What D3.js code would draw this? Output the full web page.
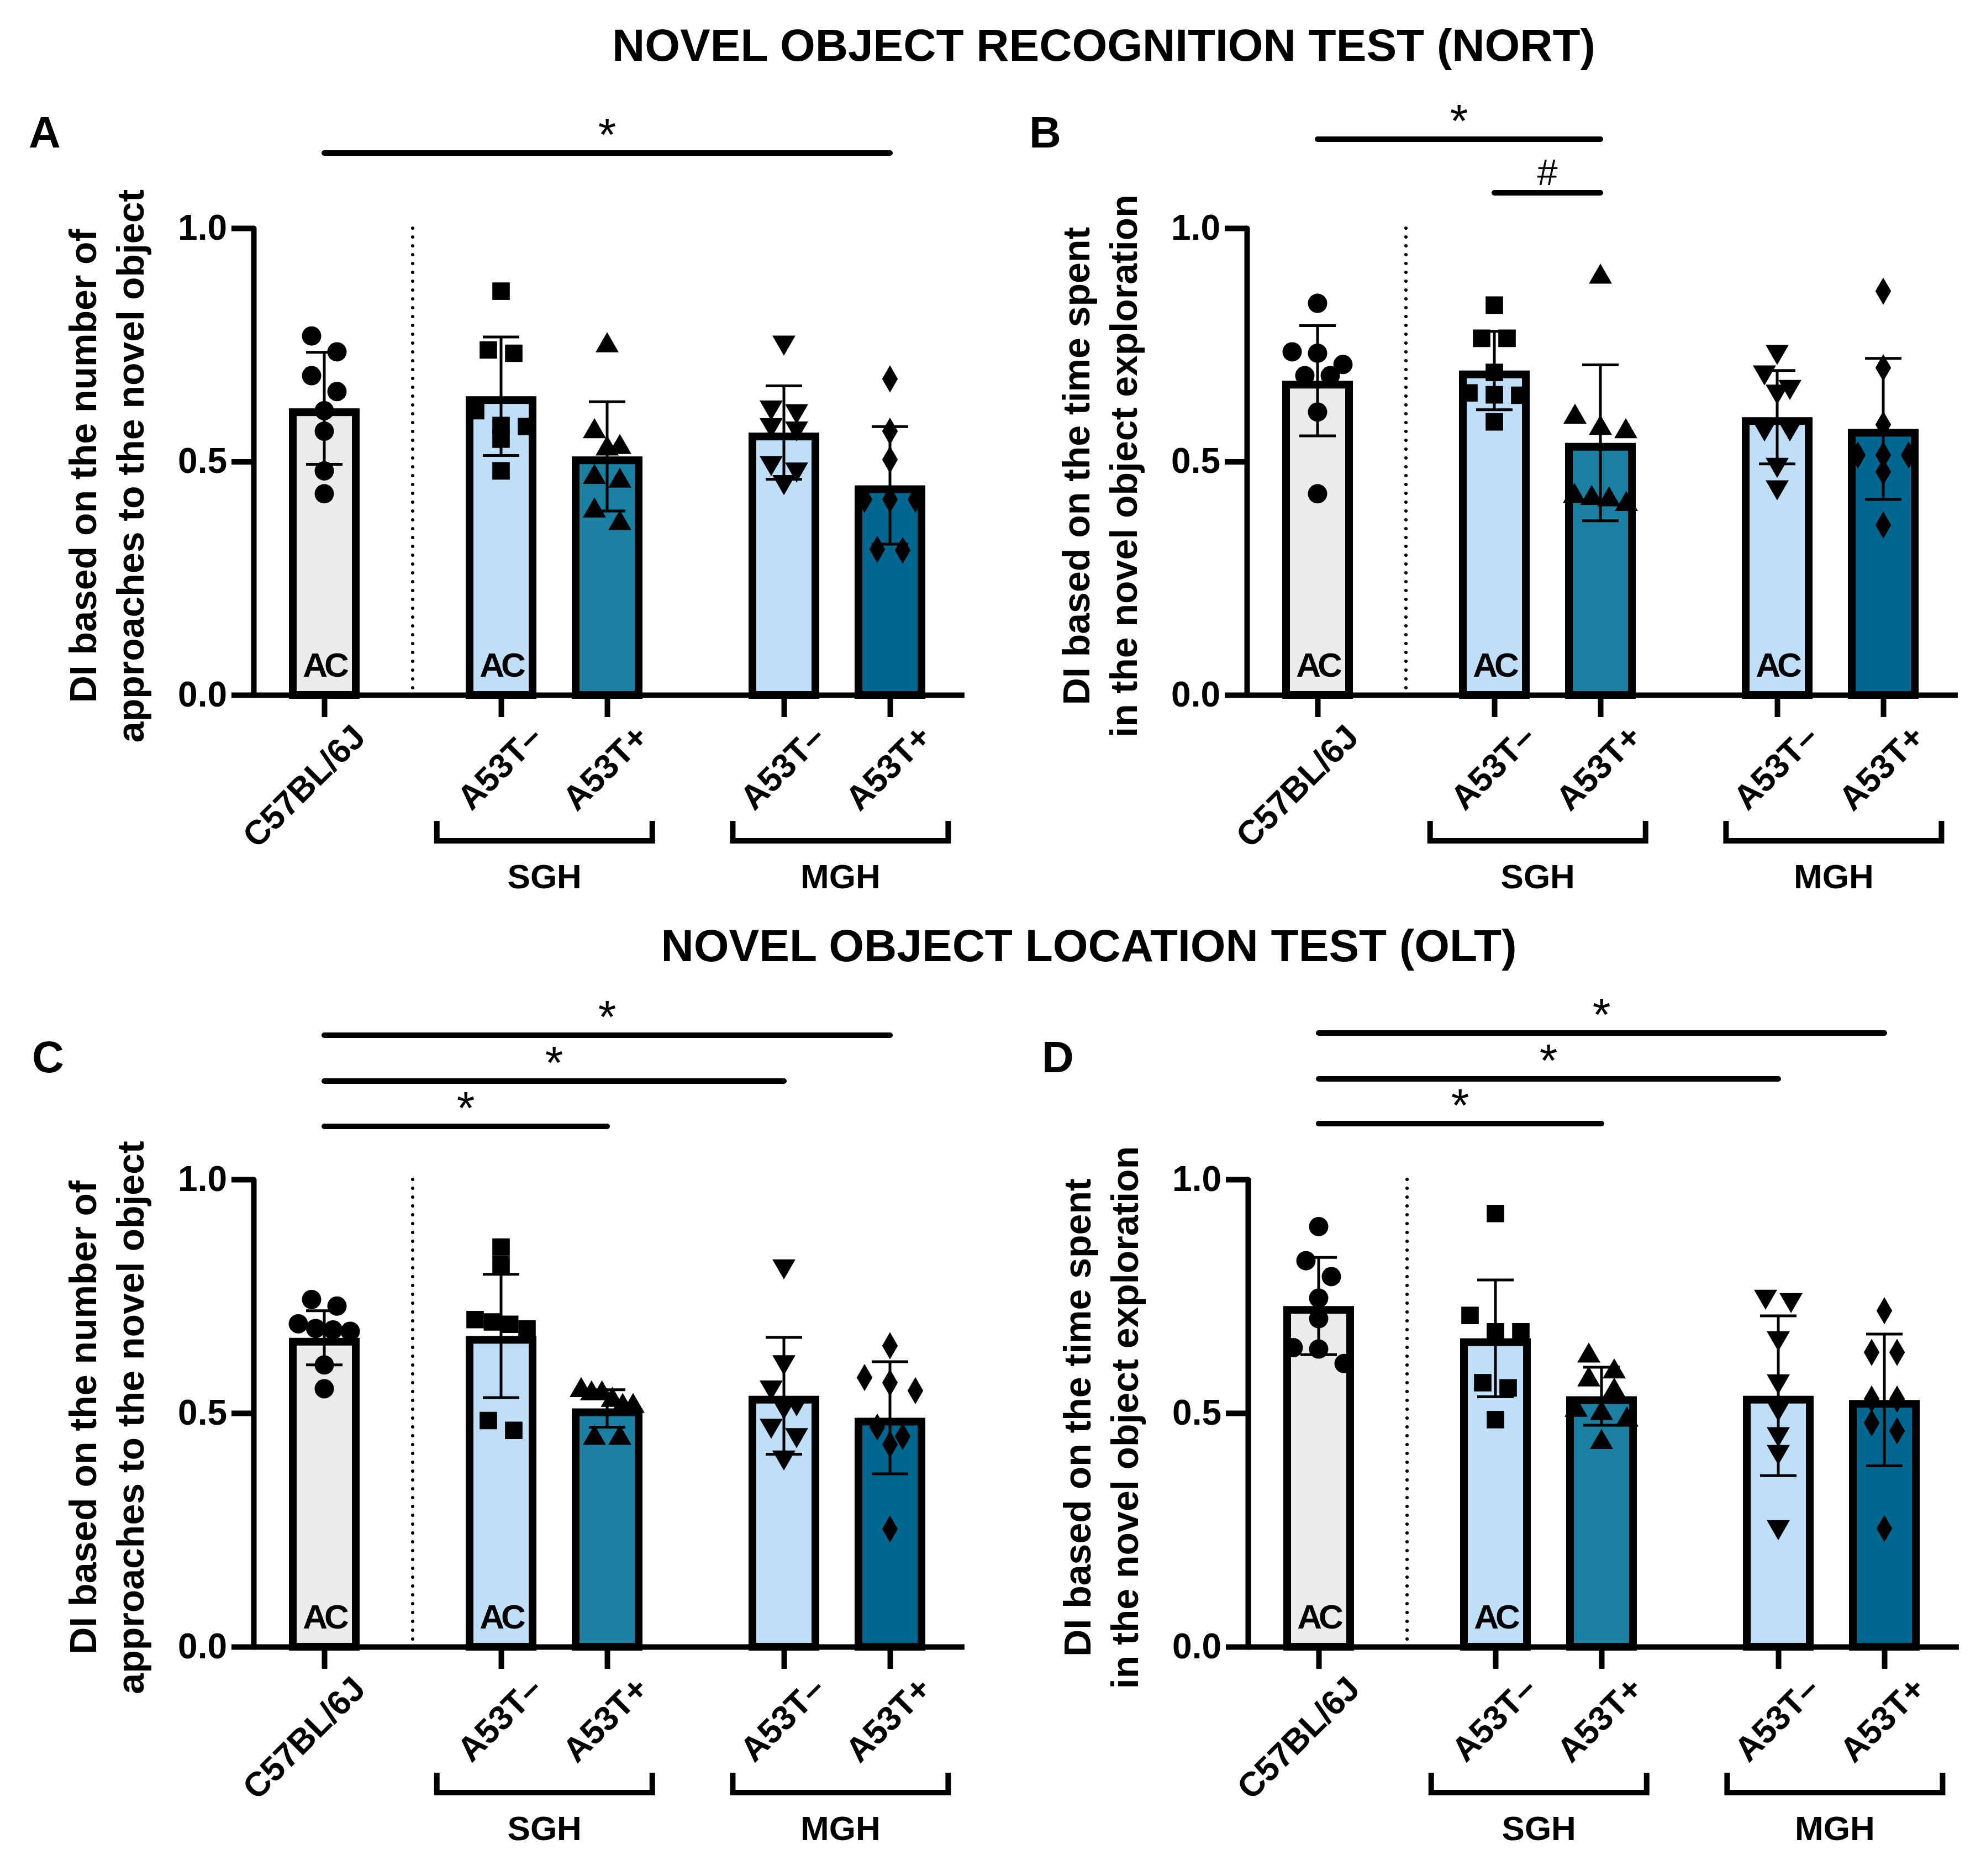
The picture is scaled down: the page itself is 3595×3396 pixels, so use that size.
<!DOCTYPE html>
<html>
<head>
<meta charset="utf-8">
<script src="https://cdn.jsdelivr.net/npm/d3@7"></script>
<style>
  body { margin: 0; background: #fff; }
  text { font-family: "Liberation Sans", Arial, Helvetica, sans-serif; }
</style>
</head>
<body>
<div id="chart"></div>
<script>
// ---- data ----
const categories = ["C57BL/6J", "A53T\u2013", "A53T+", "A53T\u2013", "A53T+"];
const groups = ["SGH", "MGH"];
const yTicks = [0, 0.5, 1.0];

// panel A: NORT, DI by number of approaches
const nortApproachMean = [0.614, 0.640, 0.511, 0.562, 0.449];
const nortApproachSd = [0.120, 0.127, 0.117, 0.100, 0.126];
const nortApproachPts = [
    [0.769, 0.735, 0.684, 0.650, 0.609, 0.565, 0.480, 0.431],
    [0.865, 0.739, 0.732, 0.609, 0.577, 0.575, 0.548, 0.480],
    [0.752, 0.568, 0.534, 0.531, 0.470, 0.462, 0.398, 0.371],
    [0.752, 0.613, 0.605, 0.575, 0.568, 0.494, 0.480, 0.453],
    [0.677, 0.565, 0.504, 0.419, 0.419, 0.419, 0.312, 0.310]
];

// panel B: NORT, DI by time spent
const nortTimeMean = [0.673, 0.695, 0.540, 0.595, 0.570];
const nortTimeSd = [0.118, 0.084, 0.167, 0.100, 0.151];
const nortTimePts = [
    [0.839, 0.735, 0.732, 0.708, 0.684, 0.684, 0.606, 0.431],
    [0.835, 0.764, 0.764, 0.691, 0.647, 0.643, 0.642, 0.585],
    [0.899, 0.599, 0.575, 0.568, 0.429, 0.425, 0.422, 0.412],
    [0.732, 0.688, 0.657, 0.647, 0.568, 0.568, 0.490, 0.442],
    [0.865, 0.701, 0.579, 0.514, 0.514, 0.514, 0.478, 0.364]
];

// panel C: OLT, DI by number of approaches
const oltApproachMean = [0.661, 0.665, 0.510, 0.537, 0.490];
const oltApproachSd = [0.058, 0.132, 0.040, 0.125, 0.120];
const oltApproachPts = [
    [0.743, 0.729, 0.691, 0.681, 0.678, 0.675, 0.603, 0.552],
    [0.855, 0.817, 0.700, 0.695, 0.690, 0.680, 0.484, 0.463],
    [0.552, 0.545, 0.545, 0.531, 0.518, 0.518, 0.450, 0.450],
    [0.811, 0.606, 0.552, 0.518, 0.511, 0.470, 0.450, 0.402],
    [0.644, 0.576, 0.565, 0.548, 0.470, 0.450, 0.433, 0.252]
];

// panel D: OLT, DI by time spent
const oltTimeMean = [0.729, 0.660, 0.536, 0.537, 0.528];
const oltTimeSd = [0.104, 0.125, 0.062, 0.171, 0.141];
const oltTimePts = [
    [0.899, 0.826, 0.792, 0.746, 0.702, 0.640, 0.637, 0.606],
    [0.927, 0.709, 0.674, 0.674, 0.671, 0.565, 0.554, 0.486],
    [0.626, 0.592, 0.575, 0.551, 0.510, 0.503, 0.489, 0.441],
    [0.746, 0.739, 0.657, 0.565, 0.507, 0.452, 0.414, 0.253],
    [0.719, 0.630, 0.630, 0.530, 0.530, 0.479, 0.462, 0.253]
];

// "AC" marks and significance comparisons (category indices)
const acA = [0, 1], acB = [0, 1, 3], acC = [0, 1], acD = [0, 1];
const sigA = [{ from: 0, to: 4, mark: "*" }];
const sigB = [{ from: 0, to: 2, mark: "*" }, { from: 1, to: 2, mark: "#" }];
const sigC = [{ from: 0, to: 4, mark: "*" }, { from: 0, to: 3, mark: "*" }, { from: 0, to: 2, mark: "*" }];
const sigD = [{ from: 0, to: 4, mark: "*" }, { from: 0, to: 3, mark: "*" }, { from: 0, to: 2, mark: "*" }];

// ---- styling / layout ----
const W = 3595, H = 3396;
const fills = ["#ebebeb", "#bfdff8", "#1a7fa1", "#006890"];
const barFill = [fills[0], fills[1], fills[2], fills[1], fills[3]];
const shapes = [d3.symbolCircle, d3.symbolSquare, d3.symbolTriangle, "down", d3.symbolDiamond];
const slots = [0, 5, 8, 13, 16];          // x slots of the five columns
const groupCenter = [6.23, 14.6];
const barStroke = 14;
const font = '"Liberation Sans", Arial, Helvetica, sans-serif';

const panels = [
    { letter: "A", x0: 0, y1: 413, y0: 1258, mean: nortApproachMean, sd: nortApproachSd, pts: nortApproachPts,
      ac: acA, sig: sigA, sigY: [-136], lx: 52, ly: 267,
      ylab: ["DI based on the number of", "approaches to the novel object"] },
    { letter: "B", x0: 1798, y1: 413, y0: 1258, mean: nortTimeMean, sd: nortTimeSd, pts: nortTimePts,
      ac: acB, sig: sigB, sigY: [-161, -64], lx: 1863, ly: 267,
      ylab: ["DI based on the time spent", "in the novel object exploration"] },
    { letter: "C", x0: 0, y1: 2135, y0: 2981, mean: oltApproachMean, sd: oltApproachSd, pts: oltApproachPts,
      ac: acC, sig: sigC, sigY: [-261, -178, -96], lx: 58, ly: 1941,
      ylab: ["DI based on the number of", "approaches to the novel object"] },
    { letter: "D", x0: 1800, y1: 2135, y0: 2981, mean: oltTimeMean, sd: oltTimeSd, pts: oltTimePts,
      ac: acD, sig: sigD, sigY: [-265, -182, -101], lx: 1886, ly: 1941,
      ylab: ["DI based on the time spent", "in the novel object exploration"] }
];

const svg = d3.select("#chart").append("svg")
    .attr("width", W).attr("height", H)
    .attr("viewBox", `0 0 ${W} ${H}`);
svg.append("rect").attr("width", W).attr("height", H).attr("fill", "#fff");

// titles
svg.append("text").attr("x", 1998).attr("y", 110)
    .attr("text-anchor", "middle").attr("font-size", 82).attr("font-weight", "bold")
    .text("NOVEL OBJECT RECOGNITION TEST (NORT)");
svg.append("text").attr("x", 1971).attr("y", 1740)
    .attr("text-anchor", "middle").attr("font-size", 82).attr("font-weight", "bold")
    .text("NOVEL OBJECT LOCATION TEST (OLT)");

// spread the points of one column in rows, like the scatter in the figure
function spread(values, thr) {
    const sorted = values.map((v, i) => ({ v, i })).sort((a, b) => b.v - a.v);
    const out = [];
    let row = [];
    const flush = () => {
        const k = row.length;
        const step = k > 1 ? Math.min(46, 94 / (k - 1)) : 0;
        row.forEach((p, j) => out.push({ v: p.v, dx: (j - (k - 1) / 2) * step }));
        row = [];
    };
    sorted.forEach(p => {
        if (row.length && row[0].v - p.v > thr) flush();
        row.push(p);
    });
    flush();
    return out;
}

panels.forEach(p => {
    const g = svg.append("g");
    const x = d3.scaleLinear().domain([-2, 18.1]).range([p.x0 + 459, p.x0 + 459 + 64 * 20.1]);
    const y = d3.scaleLinear().domain([0, 1]).range([p.y0, p.y1]);

    // panel letter
    g.append("text").attr("x", p.lx).attr("y", p.ly)
        .attr("font-size", 80).attr("font-weight", "bold").text(p.letter);

    // y axis label (two lines)
    const ymid = (p.y0 + p.y1) / 2 + 8;
    p.ylab.forEach((t, i) => {
        g.append("text")
            .attr("transform", `translate(${p.x0 + 174 + i * 86},${ymid}) rotate(-90)`)
            .attr("text-anchor", "middle").attr("font-size", 68).attr("font-weight", "bold")
            .text(t);
    });

    // bars (outline kept inside the bar, so the outer top edge sits on the mean)
    g.selectAll("rect.bar").data(p.mean).enter().append("rect")
        .attr("class", "bar")
        .attr("x", (d, i) => x(slots[i]) - 57)
        .attr("width", 114)
        .attr("y", d => y(d) + barStroke / 2)
        .attr("height", d => y(0) - y(d) - barStroke / 2)
        .attr("fill", (d, i) => barFill[i])
        .attr("stroke", "#000").attr("stroke-width", barStroke);

    // AC marks inside bars
    p.ac.forEach(i => {
        g.append("text").attr("x", x(slots[i])).attr("y", y(0) - 33)
            .attr("text-anchor", "middle").attr("font-size", 62).attr("font-weight", "bold")
            .attr("letter-spacing", -6).text("AC");
    });

    // dotted separator
    g.append("line").attr("x1", x(2.5)).attr("x2", x(2.5))
        .attr("y1", y(1)).attr("y2", y(0) - 10)
        .attr("stroke", "#000").attr("stroke-width", 6)
        .attr("stroke-linecap", "round").attr("stroke-dasharray", "0 16");

    // points
    p.pts.forEach((vals, i) => {
        const sym = shapes[i];
        const gen = d3.symbol().type(sym === "down" ? d3.symbolTriangle : sym)
            .size(sym === d3.symbolCircle ? 960 : sym === d3.symbolSquare ? 1000 : sym === d3.symbolDiamond ? 700 : 760);
        g.selectAll(null).data(spread(vals, 0.035)).enter().append("path")
            .attr("d", gen())
            .attr("transform", d => `translate(${x(slots[i]) + d.dx},${y(d.v) + (sym === "down" ? -3 : sym === d3.symbolTriangle ? 3 : 0)})` + (sym === "down" ? " rotate(180)" : ""))
            .attr("fill", "#000");
    });

    // error bars (mean +/- SD)
    p.mean.forEach((m, i) => {
        const cx = x(slots[i]);
        const lo = y(m - p.sd[i]), hi = y(m + p.sd[i]);
        g.append("line").attr("x1", cx).attr("x2", cx).attr("y1", lo).attr("y2", hi)
            .attr("stroke", "#000").attr("stroke-width", 5);
        [lo, hi].forEach(yy => g.append("line")
            .attr("x1", cx - 33).attr("x2", cx + 33).attr("y1", yy).attr("y2", yy)
            .attr("stroke", "#000").attr("stroke-width", 5));
    });

    // y axis
    const yAxis = g.append("g").attr("transform", `translate(${x(-2)},0)`)
        .call(d3.axisLeft(y).tickValues(yTicks).tickFormat(d3.format(".1f")).tickSize(40).tickSizeOuter(0).tickPadding(8));
    yAxis.select(".domain").attr("stroke-width", 10).attr("stroke-linecap", "round");
    yAxis.selectAll(".tick line").attr("stroke-width", 10);
    yAxis.selectAll(".tick text").attr("font-size", 64).attr("font-weight", "bold")
        .attr("font-family", font).attr("fill", "#000");

    // x axis
    const xAxis = g.append("g").attr("transform", `translate(0,${y(0)})`)
        .call(d3.axisBottom(x).tickValues(slots).tickFormat("").tickSize(40).tickSizeOuter(0));
    xAxis.select(".domain").attr("stroke-width", 10);
    xAxis.selectAll(".tick line").attr("stroke-width", 10);

    // rotated category labels
    categories.forEach((c, i) => {
        g.append("text")
            .attr("transform", `translate(${x(slots[i]) + 78},${y(0) + 80}) rotate(-45)`)
            .attr("text-anchor", "end").attr("font-size", 62).attr("font-weight", "bold")
            .text(c);
    });

    // group brackets
    groups.forEach((name, gi) => {
        const cx = x(groupCenter[gi]);
        const yb = y(0) + 264;
        g.append("path")
            .attr("d", `M${cx - 195},${yb - 36}V${yb}H${cx + 195}V${yb - 36}`)
            .attr("fill", "none").attr("stroke", "#000").attr("stroke-width", 10);
        g.append("text").attr("x", cx).attr("y", yb + 86)
            .attr("text-anchor", "middle").attr("font-size", 62).attr("font-weight", "bold")
            .text(name);
    });

    // significance lines
    p.sig.forEach((s, k) => {
        const ly = y(1) + p.sigY[k];
        const xa = x(slots[s.from]), xb = x(slots[s.to]);
        g.append("line").attr("x1", xa).attr("x2", xb).attr("y1", ly).attr("y2", ly)
            .attr("stroke", "#000").attr("stroke-width", 10).attr("stroke-linecap", "round");
        g.append("text").attr("x", (xa + xb) / 2).attr("y", s.mark === "*" ? ly - 4 : ly - 14)
            .attr("text-anchor", "middle").attr("font-size", s.mark === "*" ? 84 : 66)
            .text(s.mark);
    });
});
</script>
</body>
</html>
